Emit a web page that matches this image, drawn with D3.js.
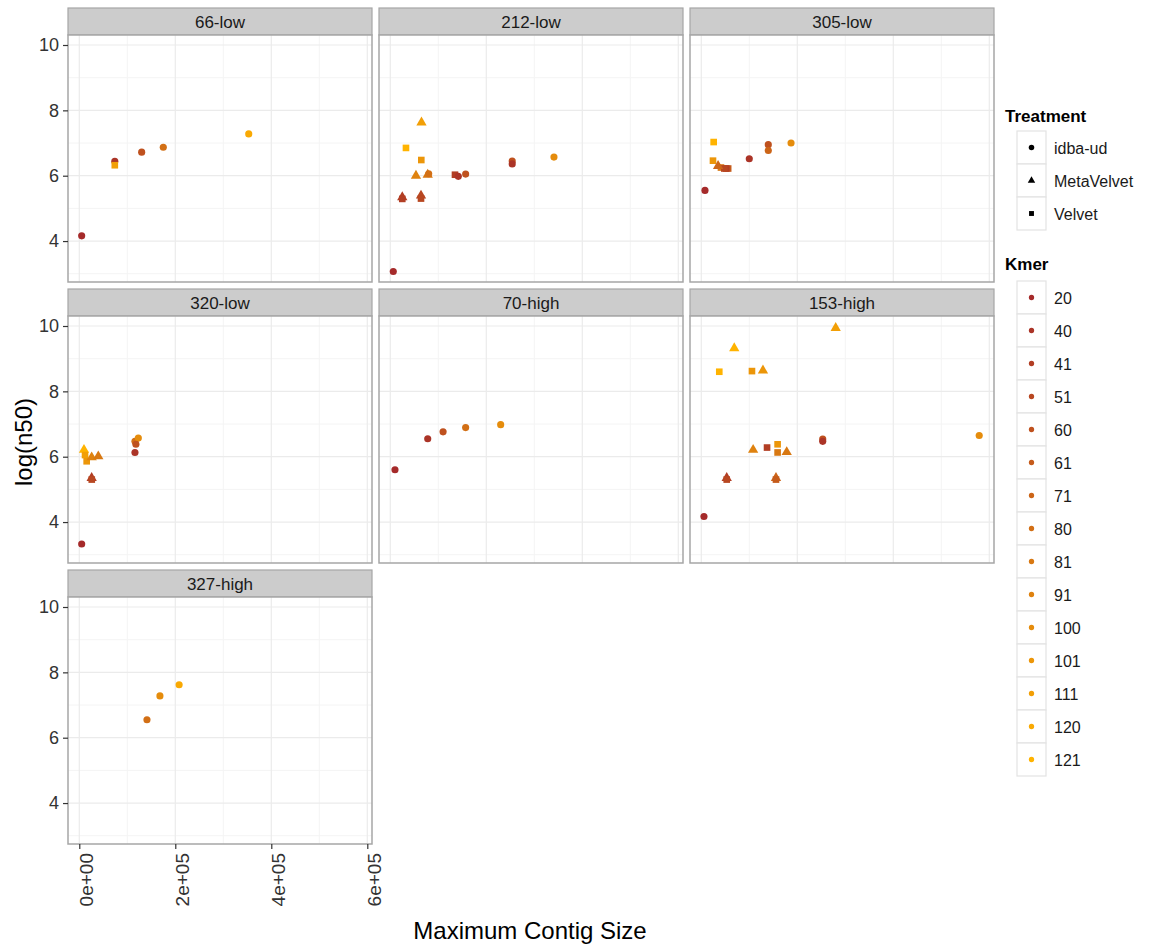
<!DOCTYPE html>
<html>
<head>
<meta charset="utf-8">
<script src="https://cdn.jsdelivr.net/npm/d3@7"></script>
<style>
  html, body { margin: 0; padding: 0; background: #fff; }
  svg { display: block; font-family: "Liberation Sans", Arial, sans-serif; }
</style>
</head>
<body>
<svg id="chart" width="1157" height="949"></svg>
<script>
// Facet panels, in reading order
const facets = ["66-low", "212-low", "305-low", "320-low", "70-high", "153-high", "327-high"];

// Legend levels
const treatments = ["idba-ud", "MetaVelvet", "Velvet"];
const kmers = [20, 40, 41, 51, 60, 61, 71, 80, 81, 91, 100, 101, 111, 120, 121];

// Axis ticks
const xTicks = [0, 200000, 400000, 600000];
const xMinor = [100000, 300000, 500000];
const xTickLabels = ["0e+00", "2e+05", "4e+05", "6e+05"];
const yTicks = [4, 6, 8, 10];
const yMinor = [3, 5, 7, 9];

// One entry per assembly: sample, assembler, k-mer, longest contig, log(n50)
const ptSample = [
  "66-low","66-low","66-low","66-low","66-low","66-low",
  "212-low","212-low","212-low","212-low","212-low","212-low","212-low","212-low","212-low","212-low",
  "212-low","212-low","212-low","212-low","212-low","212-low","212-low",
  "305-low","305-low","305-low","305-low","305-low","305-low","305-low","305-low","305-low","305-low","305-low","305-low",
  "320-low","320-low","320-low","320-low","320-low","320-low","320-low","320-low","320-low","320-low","320-low","320-low",
  "70-high","70-high","70-high","70-high","70-high",
  "153-high","153-high","153-high","153-high","153-high","153-high","153-high","153-high","153-high","153-high",
  "153-high","153-high","153-high","153-high","153-high","153-high","153-high","153-high",
  "327-high","327-high","327-high"
];
const ptTreatment = [
  "idba-ud","idba-ud","Velvet","idba-ud","idba-ud","idba-ud",
  "MetaVelvet","Velvet","Velvet","MetaVelvet","MetaVelvet","idba-ud","Velvet","idba-ud","idba-ud","MetaVelvet",
  "Velvet","MetaVelvet","Velvet","idba-ud","idba-ud","idba-ud","idba-ud",
  "Velvet","Velvet","Velvet","Velvet","Velvet","Velvet","MetaVelvet","idba-ud","idba-ud","idba-ud","idba-ud","idba-ud",
  "idba-ud","MetaVelvet","Velvet","Velvet","MetaVelvet","MetaVelvet","MetaVelvet","Velvet","idba-ud","idba-ud","idba-ud","idba-ud",
  "idba-ud","idba-ud","idba-ud","idba-ud","idba-ud",
  "MetaVelvet","MetaVelvet","Velvet","Velvet","MetaVelvet","idba-ud","idba-ud","idba-ud","MetaVelvet","Velvet",
  "Velvet","Velvet","MetaVelvet","MetaVelvet","Velvet","MetaVelvet","Velvet","idba-ud",
  "idba-ud","idba-ud","idba-ud"
];
const ptKmer = [
  20, 40, 111, 60, 80, 120,
  111, 121, 101, 91, 81, 80, 41, 40, 60, 41,
  41, 51, 51, 60, 40, 100, 20,
  121, 101, 81, 61, 41, 51, 71, 20, 40, 60, 71, 100,
  20, 121, 111, 101, 91, 81, 41, 51, 80, 100, 40, 60,
  20, 40, 60, 80, 100,
  111, 121, 121, 101, 101, 100, 60, 40, 91, 41,
  101, 81, 81, 41, 51, 71, 61, 20,
  80, 100, 120
];
const ptContig = [
  5000, 74000, 74000, 130000, 175000, 353000,
  65000, 32700, 64600, 53500, 78000, 80000, 134800, 141700, 157000, 25000,
  25000, 64000, 64000, 254000, 254000, 341000, 6250,
  25800, 24400, 41000, 56000, 52000, 48000, 35000, 7700, 100000, 139600, 139600, 187000,
  5000, 9800, 12000, 15400, 25800, 39600, 25800, 26000, 116000, 123000, 116000, 118000,
  9800, 78000, 110000, 157000, 230000,
  280000, 68700, 37500, 105600, 128500, 579000, 253000, 253000, 108000, 137000,
  159000, 159000, 178000, 53000, 53000, 155600, 155600, 5600,
  141000, 168000, 208000
];
const ptLogN50 = [
  4.16, 6.44, 6.32, 6.72, 6.87, 7.28,
  7.63, 6.85, 6.48, 6.00, 6.03, 6.06, 6.03, 5.98, 6.05, 5.34,
  5.29, 5.39, 5.30, 6.45, 6.36, 6.57, 3.07,
  7.03, 6.46, 6.25, 6.22, 6.22, 6.22, 6.30, 5.55, 6.52, 6.95, 6.77, 7.00,
  3.33, 6.21, 6.05, 5.86, 5.98, 6.01, 5.35, 5.30, 6.47, 6.57, 6.13, 6.38,
  5.60, 6.55, 6.76, 6.89, 6.98,
  9.94, 9.32, 8.60, 8.62, 8.64, 6.65, 6.54, 6.47, 6.21, 6.28,
  6.38, 6.13, 6.14, 5.35, 5.30, 5.35, 5.30, 4.17,
  6.55, 7.28, 7.62
];

const points = ptSample.map((s, i) => ({
  sample: s, treatment: ptTreatment[i], kmer: ptKmer[i],
  contig: ptContig[i], n50: ptLogN50[i]
}));

// ---- layout ----
const svg = d3.select("#chart");
const ncol = 3;
const panelW = 304, panelH = 247, stripH = 27;
const colX = [68, 379, 690];
const rowY = [8, 289, 570];

const x = d3.scaleLinear().domain([-23500, 609800]).range([0, panelW]);
const y = d3.scaleLinear().domain([2.747, 10.306]).range([panelH, 0]);

// brown -> orange ramp over the k-mer levels
const ramp = d3.interpolateRgb("#a52a2a", "#ffb300");
const color = d3.scaleOrdinal().domain(kmers).range(kmers.map((k, i) => ramp(i / (kmers.length - 1))));

const shapeType = d3.scaleOrdinal().domain(treatments)
  .range([d3.symbolCircle, d3.symbolTriangle, d3.symbolSquare]);
const shapeSize = d3.scaleOrdinal().domain(treatments).range([40, 46, 44]);
const symbol = t => d3.symbol().type(shapeType(t)).size(shapeSize(t))();

facets.forEach((name, idx) => {
  const col = idx % ncol, row = Math.floor(idx / ncol);
  const g = svg.append("g").attr("transform", `translate(${colX[col]},${rowY[row]})`);

  // strip
  g.append("rect").attr("x", 0).attr("y", 0).attr("width", panelW).attr("height", stripH)
    .attr("fill", "#cccccc").attr("stroke", "#a6a6a6").attr("stroke-width", 1.2);
  g.append("text").attr("x", panelW / 2).attr("y", stripH / 2 + 6)
    .attr("text-anchor", "middle").attr("font-size", 17).attr("fill", "#1a1a1a").text(name);

  const p = g.append("g").attr("transform", `translate(0,${stripH})`);
  p.append("rect").attr("width", panelW).attr("height", panelH).attr("fill", "#fff");

  // grid
  p.selectAll(".xminor").data(xMinor).join("line")
    .attr("x1", d => x(d)).attr("x2", d => x(d)).attr("y1", 0).attr("y2", panelH)
    .attr("stroke", "#f4f4f4").attr("stroke-width", 1);
  p.selectAll(".yminor").data(yMinor).join("line")
    .attr("y1", d => y(d)).attr("y2", d => y(d)).attr("x1", 0).attr("x2", panelW)
    .attr("stroke", "#f4f4f4").attr("stroke-width", 1);
  p.selectAll(".xmajor").data(xTicks).join("line")
    .attr("x1", d => x(d)).attr("x2", d => x(d)).attr("y1", 0).attr("y2", panelH)
    .attr("stroke", "#ebebeb").attr("stroke-width", 1.2);
  p.selectAll(".ymajor").data(yTicks).join("line")
    .attr("y1", d => y(d)).attr("y2", d => y(d)).attr("x1", 0).attr("x2", panelW)
    .attr("stroke", "#ebebeb").attr("stroke-width", 1.2);

  // points
  p.selectAll(".pt").data(points.filter(d => d.sample === name)).join("path")
    .attr("transform", d => `translate(${x(d.contig)},${y(d.n50)})`)
    .attr("d", d => symbol(d.treatment))
    .attr("fill", d => color(d.kmer));

  // panel border
  p.append("rect").attr("width", panelW).attr("height", panelH)
    .attr("fill", "none").attr("stroke", "#a6a6a6").attr("stroke-width", 1.5);

  // y axis on first column
  if (col === 0) {
    const ya = p.append("g").call(d3.axisLeft(y).tickValues(yTicks).tickSize(5).tickPadding(4));
    ya.select(".domain").remove();
    ya.selectAll(".tick line").attr("stroke", "#333").attr("stroke-width", 1.2);
    ya.selectAll(".tick text").attr("font-size", 18).attr("fill", "#333")
      .attr("font-family", "Liberation Sans, Arial, sans-serif");
  }
  // x axis under the bottom panel
  if (idx === facets.length - 1) {
    const xa = p.append("g").attr("transform", `translate(0,${panelH})`)
      .call(d3.axisBottom(x).tickValues(xTicks).tickFormat((d, i) => xTickLabels[i]).tickSize(5));
    xa.select(".domain").remove();
    xa.selectAll(".tick line").attr("stroke", "#333").attr("stroke-width", 1.2);
    xa.selectAll(".tick text")
      .attr("font-size", 19).attr("fill", "#333")
      .attr("font-family", "Liberation Sans, Arial, sans-serif")
      .attr("text-anchor", "end").attr("dy", null)
      .attr("transform", "translate(13,9) rotate(-90)")
      .attr("x", 0).attr("y", 0);
  }
});

// axis titles
svg.append("text").attr("x", 530).attr("y", 939).attr("text-anchor", "middle")
  .attr("font-size", 24).attr("fill", "#000").text("Maximum Contig Size");
svg.append("text").attr("transform", "translate(32,442) rotate(-90)").attr("text-anchor", "middle")
  .attr("font-size", 24).attr("fill", "#000").text("log(n50)");

// ---- legends ----
const lg = svg.append("g").attr("transform", "translate(1004,0)");
const keyW = 29, keyH = 33;

lg.append("text").attr("x", 1).attr("y", 122).attr("font-size", 17).attr("font-weight", "bold").text("Treatment");
const tk = lg.selectAll(".tkey").data(treatments).join("g")
  .attr("transform", (d, i) => `translate(13,${131 + i * keyH})`);
tk.append("rect").attr("width", keyW).attr("height", keyH).attr("fill", "#fff").attr("stroke", "#e3e3e3").attr("stroke-width", 1.2);
tk.append("path").attr("transform", `translate(${keyW / 2},${keyH / 2})`)
  .attr("d", d => d3.symbol().type(shapeType(d)).size(24)()).attr("fill", "#000");
tk.append("text").attr("x", keyW + 8).attr("y", keyH / 2 + 6).attr("font-size", 16).attr("fill", "#1a1a1a").text(d => d);

lg.append("text").attr("x", 1).attr("y", 270).attr("font-size", 17).attr("font-weight", "bold").text("Kmer");
const kk = lg.selectAll(".kkey").data(kmers).join("g")
  .attr("transform", (d, i) => `translate(13,${281 + i * keyH})`);
kk.append("rect").attr("width", keyW).attr("height", keyH).attr("fill", "#fff").attr("stroke", "#e3e3e3").attr("stroke-width", 1.2);
kk.append("path").attr("transform", `translate(${keyW / 2},${keyH / 2})`)
  .attr("d", d3.symbol().type(d3.symbolCircle).size(22)()).attr("fill", d => color(d));
kk.append("text").attr("x", keyW + 8).attr("y", keyH / 2 + 6).attr("font-size", 16).attr("fill", "#1a1a1a").text(d => d);
</script>
</body>
</html>
